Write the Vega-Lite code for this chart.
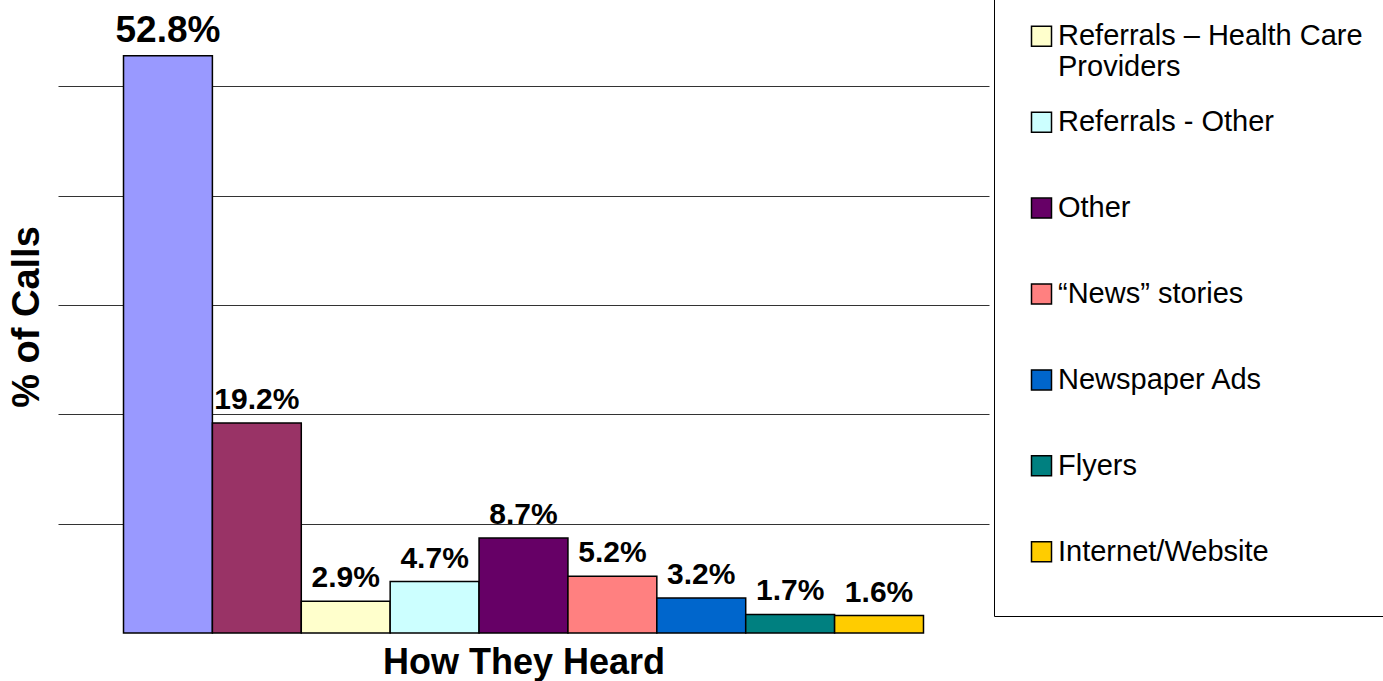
{
  "$schema": "https://vega.github.io/schema/vega-lite/v6.json",
  "width": 931,
  "height": 633,
  "autosize": {"type": "none"},
  "padding": {"left": 58, "top": 0, "right": 394, "bottom": 48},
  "background": "white",
  "config": {"view": {"stroke": null}, "font": "Liberation Sans"},
  "data": {
    "values": [
      {"source": "Television", "share": 0.528},
      {"source": "Radio", "share": 0.192},
      {"source": "Referrals – Health Care Providers", "share": 0.029},
      {"source": "Referrals - Other", "share": 0.047},
      {"source": "Other", "share": 0.087},
      {"source": "“News” stories", "share": 0.052},
      {"source": "Newspaper Ads", "share": 0.032},
      {"source": "Flyers", "share": 0.017},
      {"source": "Internet/Website", "share": 0.016}
    ]
  },
  "encoding": {
    "x": {
      "field": "source",
      "type": "nominal",
      "sort": null,
      "scale": {"paddingInner": 0, "paddingOuter": 0.737},
      "axis": {
        "title": "How They Heard",
        "labels": false,
        "ticks": false,
        "domain": false,
        "grid": false,
        "titleFont": "Liberation Sans",
        "titleFontSize": 36,
        "titleFontWeight": "bold",
        "titleColor": "black",
        "titlePadding": 12
      }
    },
    "y": {
      "field": "share",
      "type": "quantitative",
      "scale": {"domain": [0, 0.579], "nice": false, "zero": true},
      "axis": {
        "title": "% of Calls",
        "values": [0.1, 0.2, 0.3, 0.4, 0.5],
        "labels": false,
        "ticks": false,
        "domain": false,
        "grid": true,
        "gridColor": "#333333",
        "gridWidth": 1,
        "titleFont": "Liberation Sans",
        "titleFontSize": 38,
        "titleFontWeight": "bold",
        "titleColor": "black",
        "titlePadding": 12
      }
    }
  },
  "layer": [
    {
      "mark": {"type": "bar", "stroke": "black", "strokeWidth": 1.5},
      "encoding": {
        "color": {
          "field": "source",
          "type": "nominal",
          "sort": null,
          "scale": {
            "domain": ["Television", "Radio", "Referrals – Health Care Providers", "Referrals - Other", "Other", "“News” stories", "Newspaper Ads", "Flyers", "Internet/Website"],
            "range": ["#9999FF", "#993366", "#FFFFCC", "#CCFFFF", "#660066", "#FF8080", "#0066CC", "#008080", "#FFCC00"]
          },
          "legend": {
            "orient": "none",
            "legendX": 936,
            "legendY": -199,
            "direction": "vertical",
            "title": null,
            "labelFont": "Liberation Sans",
            "labelFontSize": 29,
            "labelColor": "black",
            "labelLimit": 600,
            "labelExpr": "datum.label == 'Referrals – Health Care Providers' ? ['Referrals – Health Care', 'Providers'] : datum.label",
            "symbolType": "square",
            "symbolSize": 400,
            "symbolStrokeColor": "black",
            "symbolStrokeWidth": 1.5,
            "symbolOpacity": 1,
            "strokeColor": "black",
            "fillColor": "white",
            "padding": 49,
            "rowPadding": 24.9,
            "gridAlign": "all",
            "symbolOffset": -16,
            "labelOffset": 2
          }
        }
      }
    },
    {
      "mark": {"type": "text", "font": "Liberation Sans", "fontWeight": "bold", "baseline": "alphabetic", "dy": -14, "color": "black"},
      "encoding": {
        "text": {"field": "share", "type": "quantitative", "format": ".1%"},
        "size": {"condition": {"test": "datum.share > 0.5", "value": 37}, "value": 30}
      }
    }
  ]
}
